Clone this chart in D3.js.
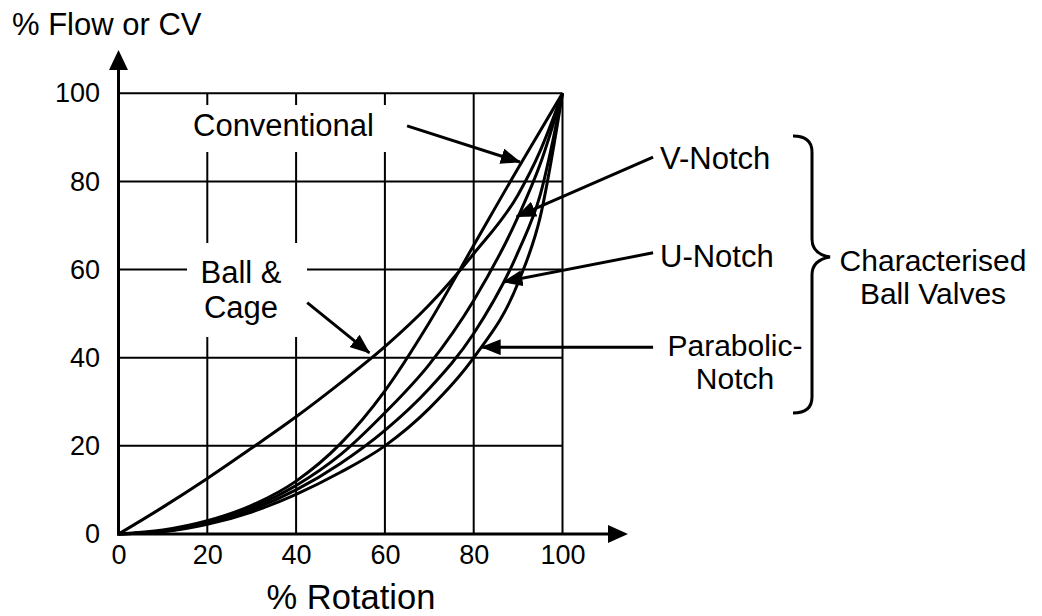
<!DOCTYPE html>
<html>
<head>
<meta charset="utf-8">
<script src="https://cdn.jsdelivr.net/npm/d3@7.9.0/dist/d3.min.js"></script>
<style>
  html, body { margin: 0; padding: 0; background: #fff; }
  svg text { font-family: "Liberation Sans", Arial, sans-serif; fill: #000; }
</style>
</head>
<body>
<div id="vis"></div>
<script>
// data (% rotation vs % flow)
const rotation = [0, 10, 20, 30, 40, 50, 60, 70, 80, 90, 95, 100];
const conventional = [0, 0.9, 3, 6.5, 12, 20.5, 32.5, 48, 65.5, 83, 91.5, 100];
const ballCage = [0, 6.1, 12.6, 19.5, 26.6, 34.3, 42.5, 52, 63.6, 77, 87, 100];
const vNotch = [0, 0.7, 2.8, 6, 11, 18, 27.5, 38.5, 53, 72, 84, 100];
const uNotch = [0, 0.6, 2.5, 5.5, 10, 16, 23.5, 33, 45.5, 64, 77, 100];
const parabolic = [0, 0.5, 2.2, 5, 9, 14, 20, 28.5, 40, 57, 72, 100];
const seriesList = [conventional, ballCage, vNotch, uNotch, parabolic];

const tickValues = [0, 20, 40, 60, 80, 100];
const gridValues = [20, 40, 60, 80, 100];

const width = 1042;
const height = 616;
const fontFamily = "'Liberation Sans', Arial, sans-serif";

const xScale = d3.scaleLinear().domain([0, 100]).range([118.5, 562.5]);
const yScale = d3.scaleLinear().domain([0, 100]).range([534, 93.3]);

const svg = d3
  .select("#vis")
  .append("svg")
  .attr("width", width)
  .attr("height", height);

// arrowhead marker
svg
  .append("defs")
  .append("marker")
  .attr("id", "head")
  .attr("markerUnits", "userSpaceOnUse")
  .attr("viewBox", "0 0 20 16")
  .attr("markerWidth", 20)
  .attr("markerHeight", 16)
  .attr("refX", 19)
  .attr("refY", 8)
  .attr("orient", "auto")
  .append("path")
  .attr("d", "M0,0 L20,8 L0,16 Z")
  .attr("fill", "#000");

// gridlines
const grid = svg.append("g").attr("stroke", "#000").attr("stroke-width", 2);
grid
  .selectAll("line.h")
  .data(gridValues)
  .enter()
  .append("line")
  .attr("x1", xScale(0))
  .attr("x2", xScale(100))
  .attr("y1", (d) => yScale(d))
  .attr("y2", (d) => yScale(d));
grid
  .selectAll("line.v")
  .data(gridValues)
  .enter()
  .append("line")
  .attr("y1", yScale(0))
  .attr("y2", yScale(100))
  .attr("x1", (d) => xScale(d))
  .attr("x2", (d) => xScale(d));

// white boxes behind the in-plot labels
svg.append("rect").attr("x", 183).attr("y", 105).attr("width", 217).attr("height", 47).attr("fill", "#fff");
svg.append("rect").attr("x", 187).attr("y", 243).attr("width", 120).attr("height", 94).attr("fill", "#fff");

// curves
const line = d3
  .line()
  .x((d, i) => xScale(rotation[i]))
  .y((d) => yScale(d))
  .curve(d3.curveMonotoneX);

svg
  .append("g")
  .selectAll("path")
  .data(seriesList)
  .enter()
  .append("path")
  .attr("d", (d) => line(d))
  .attr("fill", "none")
  .attr("stroke", "#000")
  .attr("stroke-width", 3)
  .attr("stroke-linejoin", "round");

// axes with arrows
svg
  .append("line")
  .attr("x1", xScale(0) - 1.5)
  .attr("x2", 610)
  .attr("y1", yScale(0))
  .attr("y2", yScale(0))
  .attr("stroke", "#000")
  .attr("stroke-width", 3);
svg
  .append("path")
  .attr("d", `M608,${yScale(0) - 9} L628,${yScale(0)} L608,${yScale(0) + 9} Z`)
  .attr("fill", "#000");
svg
  .append("line")
  .attr("x1", xScale(0))
  .attr("x2", xScale(0))
  .attr("y1", yScale(0) + 1.5)
  .attr("y2", 68)
  .attr("stroke", "#000")
  .attr("stroke-width", 3);
svg
  .append("path")
  .attr("d", `M${xScale(0) - 9.5},70 L${xScale(0)},50 L${xScale(0) + 9.5},70 Z`)
  .attr("fill", "#000");

const xAxis = svg
  .append("g")
  .attr("transform", `translate(0,${yScale(0)})`)
  .call(d3.axisBottom(xScale).tickValues(tickValues).tickSize(0).tickPadding(11));
const yAxis = svg
  .append("g")
  .attr("transform", `translate(${xScale(0)},0)`)
  .call(d3.axisLeft(yScale).tickValues(tickValues).tickSize(0).tickPadding(18.5));
[xAxis, yAxis].forEach((g) => {
  g.attr("font-family", fontFamily).attr("font-size", 27);
  g.select(".domain").remove();
  g.selectAll("text").attr("fill", "#000");
});

// axis titles
svg.append("text").attr("x", 12).attr("y", 35).attr("font-size", 31).text("% Flow or CV");
svg
  .append("text")
  .attr("x", 351)
  .attr("y", 609)
  .attr("text-anchor", "middle")
  .attr("font-size", 34.5)
  .text("% Rotation");

// annotation arrows, in data units: [fromX, fromY, toX, toY]
const arrows = [
  [65, 92.6, 90.4, 84.4],
  [120.4, 85.5, 89.7, 72],
  [120.4, 63.8, 86.7, 57.2],
  [120.4, 42.4, 81.8, 42.4],
  [42.5, 52.5, 56.5, 41.1],
];
svg
  .append("g")
  .selectAll("line")
  .data(arrows)
  .enter()
  .append("line")
  .attr("x1", (d) => xScale(d[0]))
  .attr("y1", (d) => yScale(d[1]))
  .attr("x2", (d) => xScale(d[2]))
  .attr("y2", (d) => yScale(d[3]))
  .attr("stroke", "#000")
  .attr("stroke-width", 3)
  .attr("marker-end", "url(#head)");

// labels (multi-line ones as tspans in one text)
const labels = [
  { lines: ["Conventional"], x: 193, y: 136, lh: 0, fs: 31, a: "start" },
  { lines: ["Ball &", "Cage"], x: 241, y: 283, lh: 35, fs: 31, a: "middle" },
  { lines: ["V-Notch"], x: 660, y: 169, lh: 0, fs: 31, a: "start" },
  { lines: ["U-Notch"], x: 660, y: 267, lh: 0, fs: 31, a: "start" },
  { lines: ["Parabolic-", "Notch"], x: 735, y: 356, lh: 33, fs: 30, a: "middle" },
  { lines: ["Characterised", "Ball Valves"], x: 933, y: 271, lh: 33, fs: 30, a: "middle" },
];
const labelText = svg
  .append("g")
  .selectAll("text")
  .data(labels)
  .enter()
  .append("text")
  .attr("y", (d) => d.y)
  .attr("text-anchor", (d) => d.a)
  .attr("font-size", (d) => d.fs);
labelText
  .selectAll("tspan")
  .data((d) => d.lines.map((t, i) => ({ t, i, x: d.x, lh: d.lh })))
  .enter()
  .append("tspan")
  .attr("x", (d) => d.x)
  .attr("dy", (d) => (d.i === 0 ? 0 : d.lh))
  .text((d) => d.t);

// curly brace
svg
  .append("path")
  .attr(
    "d",
    "M793,136 Q812,136 812,152 L812,239 Q812,254 830,257 Q812,260 812,275 L812,397 Q812,413 793,413"
  )
  .attr("fill", "none")
  .attr("stroke", "#000")
  .attr("stroke-width", 3);
</script>
</body>
</html>
